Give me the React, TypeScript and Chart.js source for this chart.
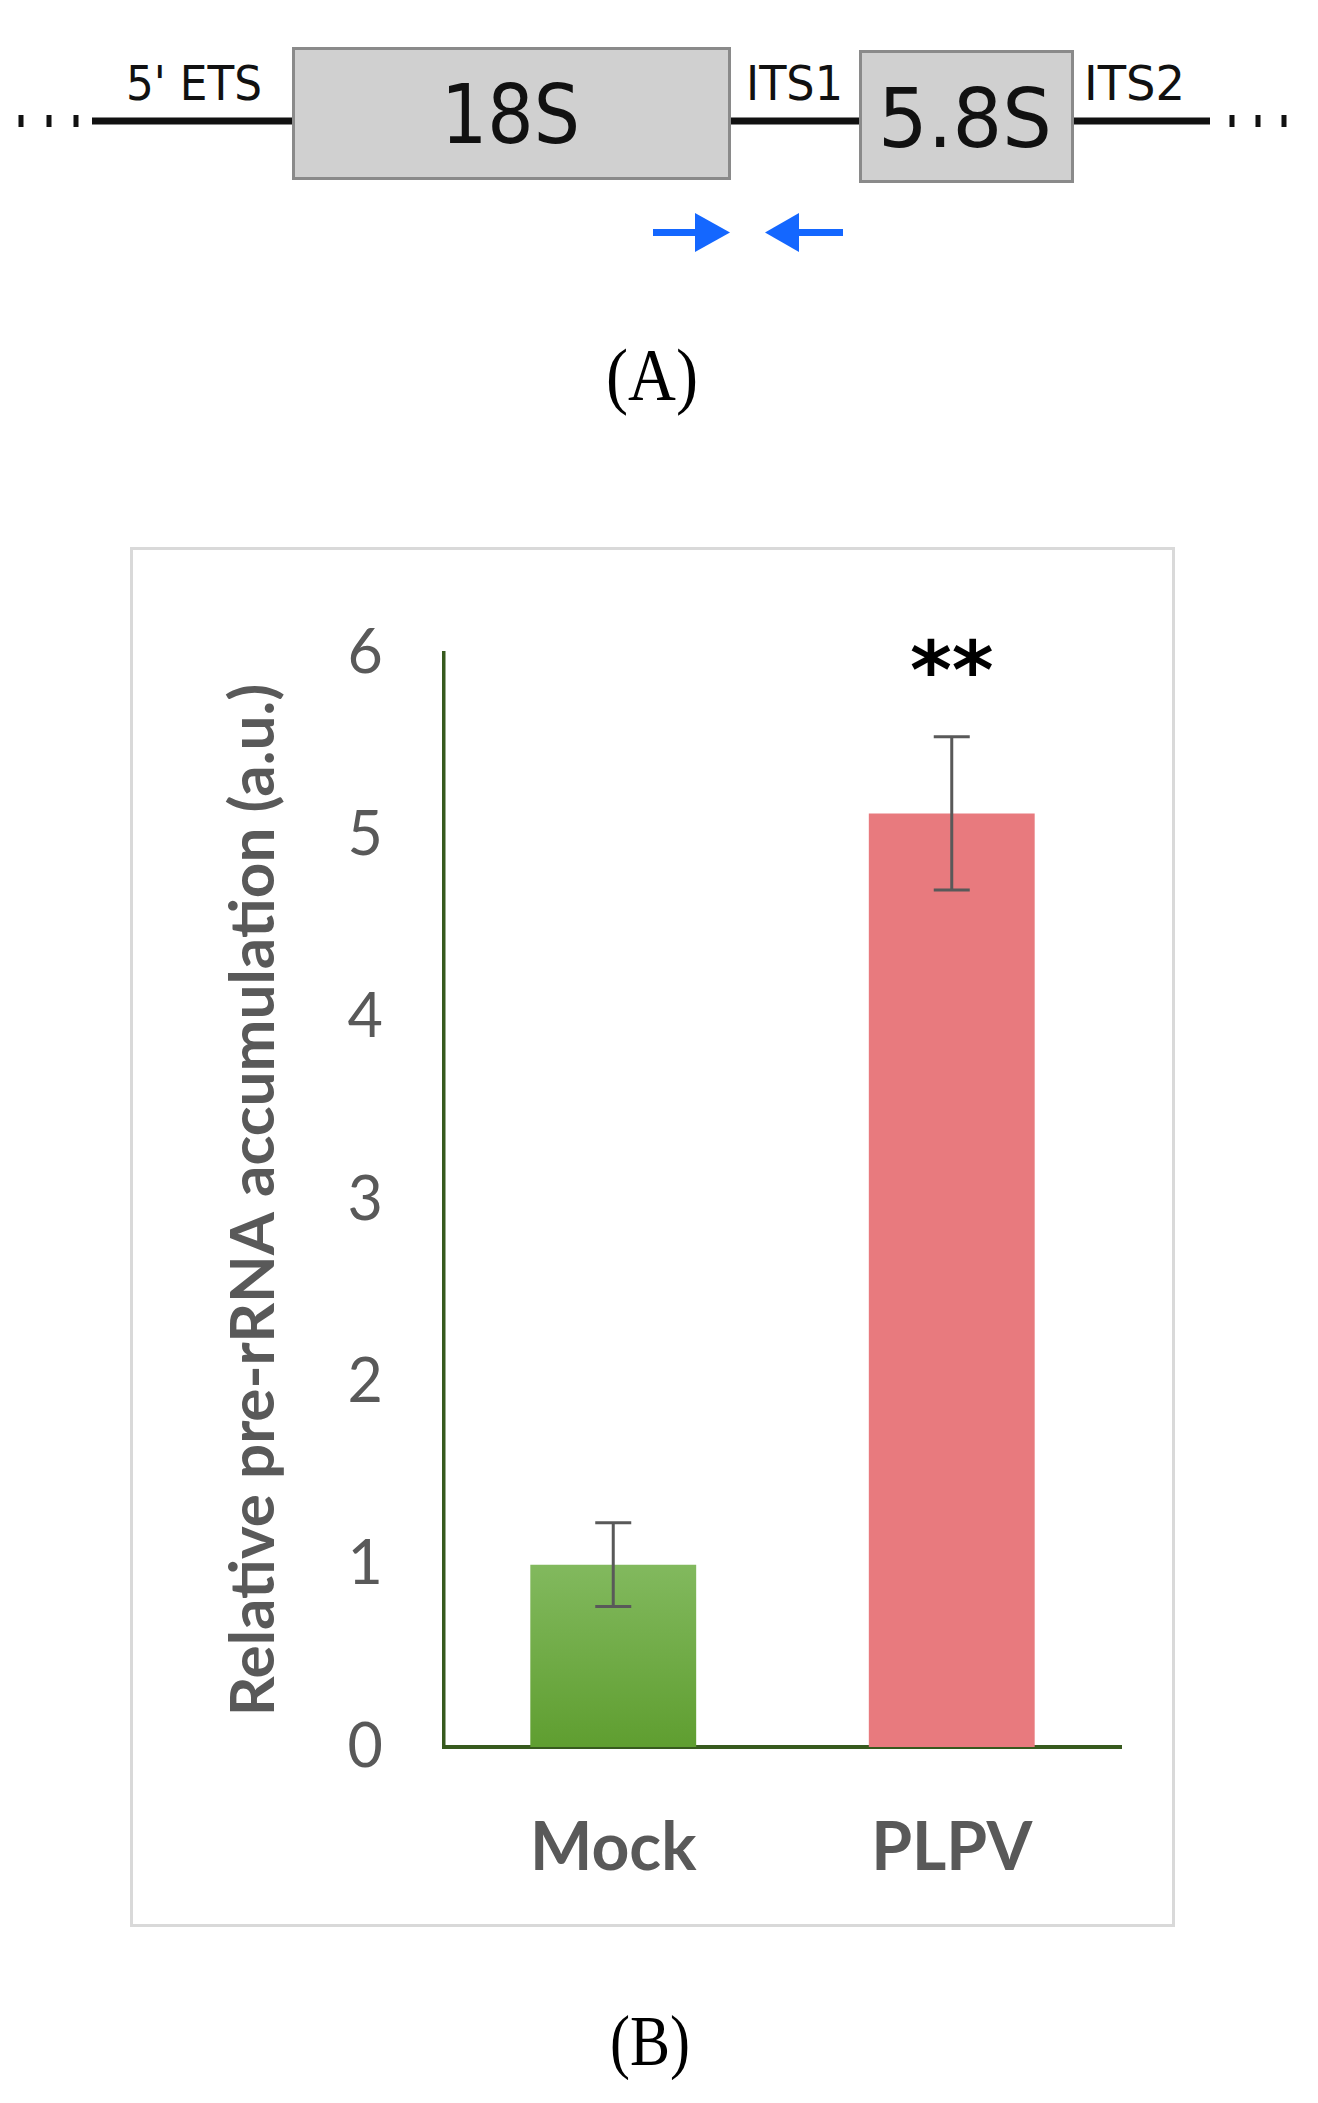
import React, { useEffect, useRef } from "react";
import { Chart, registerables } from "chart.js";

Chart.register(...registerables);

// ---------- data ----------
const categories = ["Mock", "PLPV"];
const values = [1.0, 5.12];
const errors = [0.23, 0.42];
const significance = ["", "**"];
const yTicks = [0, 1, 2, 3, 4, 5, 6];
const yAxisTitle = "Relative pre-rRNA accumulation (a.u.)";

// diagram labels (panel A)
const regionLabels = ["5' ETS", "ITS1", "ITS2"];
const geneLabels = ["18S", "5.8S"];
const panelLabels = ["(A)", "(B)"];

// ---------- styles ----------
const AXIS_COLOR = "#375a1e";
const TEXT_GRAY = "#595959";
const BAR_PINK = "#e87a7e";
const GREEN_TOP = "#82b95e";
const GREEN_BOTTOM = "#5f9e30";

const errorBarPlugin = {
  id: "errorBars",
  afterDatasetsDraw(chart: any) {
    const ctx = chart.ctx;
    const meta = chart.getDatasetMeta(0);
    const y = chart.scales.y;
    ctx.save();
    meta.data.forEach((bar: any, i: number) => {
      const x = bar.x;
      const top = y.getPixelForValue(values[i] + errors[i]);
      const bot = y.getPixelForValue(values[i] - errors[i]);
      ctx.strokeStyle = TEXT_GRAY;
      ctx.lineWidth = 3;
      ctx.beginPath();
      ctx.moveTo(x, top);
      ctx.lineTo(x, bot);
      ctx.moveTo(x - 18, top);
      ctx.lineTo(x + 18, top);
      ctx.moveTo(x - 18, bot);
      ctx.lineTo(x + 18, bot);
      ctx.stroke();
      if (significance[i]) {
        ctx.fillStyle = "#000";
        ctx.font = "bold 80px 'DejaVu Sans'";
        ctx.textAlign = "center";
        ctx.textBaseline = "alphabetic";
        const m = ctx.measureText(significance[i]);
        const cy = top - 80;
        const by = cy + (m.actualBoundingBoxAscent - m.actualBoundingBoxDescent) / 2;
        ctx.fillText(significance[i], x, by);
      }
    });
    ctx.restore();
  },
};

function BarChart() {
  const ref = useRef<HTMLCanvasElement>(null);
  useEffect(() => {
    if (!ref.current) return;
    const chart = new Chart(ref.current, {
      type: "bar",
      data: {
        labels: categories,
        datasets: [
          {
            data: values,
            barPercentage: 0.49,
            categoryPercentage: 1,
            borderWidth: 0,
            backgroundColor: (c: any) => {
              if (c.dataIndex === 1) return BAR_PINK;
              const chartObj = c.chart;
              const area = chartObj.chartArea;
              if (!area || !chartObj.scales.y) return GREEN_BOTTOM;
              const y = chartObj.scales.y;
              const g = chartObj.ctx.createLinearGradient(
                0,
                y.getPixelForValue(values[0]),
                0,
                y.getPixelForValue(0)
              );
              g.addColorStop(0, GREEN_TOP);
              g.addColorStop(1, GREEN_BOTTOM);
              return g;
            },
          },
        ],
      },
      options: {
        responsive: false,
        animation: false,
        devicePixelRatio: 1,
        layout: { padding: { left: 0, right: 54, top: 106, bottom: 0 } },
        plugins: { legend: { display: false }, tooltip: { enabled: false } },
        scales: {
          x: {
            grid: { display: false },
            border: { display: true, color: AXIS_COLOR, width: 4 },
            ticks: {
              color: TEXT_GRAY,
              font: { family: "Lato", size: 66, weight: "bold" },
              padding: 54,
            },
            afterFit: (s: any) => {
              s.height = 180;
            },
          },
          y: {
            min: 0,
            max: 6,
            grid: { display: false },
            border: { display: true, color: AXIS_COLOR, width: 3.5 },
            ticks: {
              stepSize: 1,
              color: TEXT_GRAY,
              font: { family: "Lato", size: 61 },
              padding: 53,
            },
            afterBuildTicks: (s: any) => {
              s.ticks = yTicks.map((v) => ({ value: v }));
            },
            title: {
              display: true,
              text: yAxisTitle,
              color: TEXT_GRAY,
              font: { family: "Lato", size: 62, weight: "bold" },
              padding: { top: 87, bottom: 0 },
            },
            afterFit: (s: any) => {
              s.width = 314;
            },
          },
        },
      },
      plugins: [errorBarPlugin],
    } as any);
    return () => chart.destroy();
  }, []);
  return (
    <canvas
      ref={ref}
      width={1045}
      height={1380}
      style={{ position: "absolute", left: 130, top: 547, width: 1045, height: 1380 }}
    />
  );
}

function Diagram() {
  const dotsX = [21, 49, 76, 1232, 1258, 1284];
  return (
    <svg
      width={1318}
      height={2103}
      style={{ position: "absolute", left: 0, top: 0 }}
    >
      {dotsX.map((x) => (
        <rect key={x} x={x - 2.5} y={115} width={5} height={12} fill="#111" />
      ))}
      <rect x={92} y={117.5} width={202} height={7} fill="#111" />
      <rect x={729} y={117.5} width={132} height={7} fill="#111" />
      <rect x={1072} y={117.5} width={138} height={7} fill="#111" />
      <rect x={293.5} y={48.5} width={436} height={130} fill="#d0d0d0" stroke="#8a8a8a" strokeWidth={3} />
      <rect x={860.5} y={51.5} width={212} height={130} fill="#d0d0d0" stroke="#8a8a8a" strokeWidth={3} />
      <g fontFamily="'DejaVu Sans'" fill="#111">
        <text x={126} y={100} fontSize={48} textLength={136} lengthAdjust="spacingAndGlyphs">{regionLabels[0]}</text>
        <text x={746} y={100} fontSize={48} textLength={97} lengthAdjust="spacingAndGlyphs">{regionLabels[1]}</text>
        <text x={1084} y={100} fontSize={48} textLength={101} lengthAdjust="spacingAndGlyphs">{regionLabels[2]}</text>
        <text x={441} y={143} fontSize={82} textLength={139} lengthAdjust="spacingAndGlyphs">{geneLabels[0]}</text>
        <text x={878} y={147} fontSize={82} textLength={174} lengthAdjust="spacingAndGlyphs">{geneLabels[1]}</text>
      </g>
      <g fill="#1467ff">
        <rect x={653} y={229} width={46} height={7} />
        <polygon points="695,213 730,232.5 695,252" />
        <rect x={797} y={229} width={46} height={7} />
        <polygon points="799,213 765,232.5 799,252" />
      </g>
      <g fontFamily="'Liberation Serif', 'Times New Roman', serif" fill="#000">
        <text x={652} y={400} fontSize={75} textAnchor="middle" textLength={92} lengthAdjust="spacingAndGlyphs">{panelLabels[0]}</text>
        <text x={650} y={2065} fontSize={72} textAnchor="middle" textLength={80} lengthAdjust="spacingAndGlyphs">{panelLabels[1]}</text>
      </g>
      <rect x={131.5} y={548.5} width={1042} height={1377} fill="none" stroke="#d9d9d9" strokeWidth={3} />
    </svg>
  );
}

export default function App() {
  return (
    <div style={{ position: "absolute", left: 0, top: 0, width: 1318, height: 2103, background: "#fff" }}>
      <Diagram />
      <BarChart />
    </div>
  );
}
